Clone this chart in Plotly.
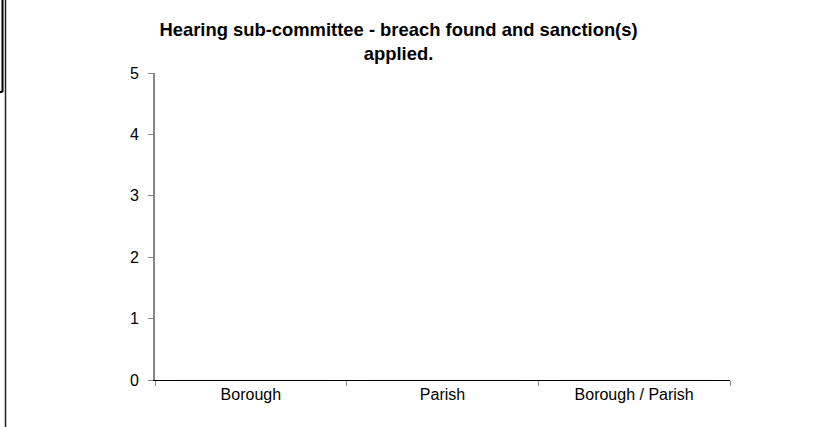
import plotly.graph_objects as go

categories = ["Borough", "Parish", "Borough / Parish"]
values = [0, 0, 0]
y_ticks = [0, 1, 2, 3, 4, 5]

L, R, T, B = 155, 100, 73, 47
W, H = 830, 427
pw, ph = W - L - R, H - T - B

def px_x(px):
    return (px - L) / pw

def px_y(py):
    return (H - B - py) / ph

fig = go.Figure()
fig.add_trace(go.Bar(x=categories, y=values, marker_color="#9999ff", hoverinfo="skip"))

fig.update_layout(
    width=W, height=H,
    margin=dict(l=L, r=R, t=T, b=B),
    paper_bgcolor="white", plot_bgcolor="white",
    showlegend=False,
    font=dict(family="Liberation Sans, Arial, sans-serif", color="black"),
    title=dict(
        text="<b>Hearing sub-committee - breach found and sanction(s)<br>applied.</b>",
        x=398.5 / W, xanchor="center", xref="container",
        y=1 - 36 / H, yanchor="top", yref="container",
        font=dict(size=18.4, family="Liberation Sans, Arial, sans-serif", color="black"),
    ),
    xaxis=dict(
        type="category", range=[-0.5, 2.5],
        showline=True, linecolor="black", linewidth=1,
        ticks="outside", tickson="boundaries", ticklen=5, tickcolor="#888888", tickwidth=1,
        showgrid=False, zeroline=False,
        tickfont=dict(size=16),
    ),
    yaxis=dict(
        range=[0, 5], tickvals=y_ticks,
        showline=True, linecolor="#888888", linewidth=2,
        ticks="outside", ticklen=5, tickcolor="#888888", tickwidth=1,
        showgrid=False, zeroline=False,
        tickfont=dict(size=16), ticklabelstandoff=6,
    ),
)

# left-edge frame remnants
fig.add_shape(type="line", xref="paper", yref="paper",
              x0=px_x(2.5), x1=px_x(2.5), y0=px_y(-2), y1=px_y(92),
              line=dict(color="black", width=2))
fig.add_shape(type="line", xref="paper", yref="paper",
              x0=px_x(-2), x1=px_x(2.5), y0=px_y(92), y1=px_y(92),
              line=dict(color="black", width=2))
fig.add_shape(type="line", xref="paper", yref="paper",
              x0=px_x(5.5), x1=px_x(5.5), y0=px_y(-2), y1=px_y(430),
              line=dict(color="#222222", width=1.5))

fig.write_html("out.html",
               config={"displayModeBar": False, "staticPlot": True},
               post_script="document.body.style.margin='0';document.body.style.overflow='hidden';")
